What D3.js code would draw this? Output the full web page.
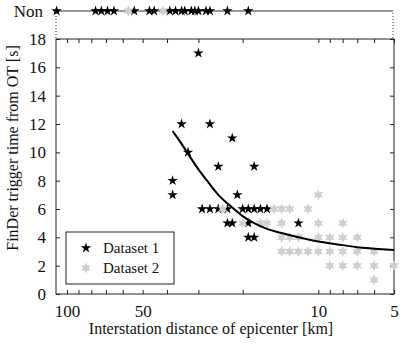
<!DOCTYPE html>
<html lang="en">
<head>
    <meta charset="UTF-8">
    <title>FinDer trigger time</title>
    <script src="https://d3js.org/d3.v7.min.js"></script>
    <style>
        body { margin: 0; background: #fff; }
        text { font-family: 'Liberation Serif', 'Times New Roman', serif; fill: #111; }
        .axis path { display: none; }
        .axis line { stroke: #222; }
    </style>
</head>
<body>
<script>
    const width  = 401;
    const height = 346;

    // Dataset 1 (black stars): distance [km], trigger time [s]
    const ds1Dist = [30, 35, 27, 22, 33, 25, 18, 38, 38, 21,
                     29, 27, 25, 23, 20, 19, 18, 17, 16,
                     23, 22, 19, 12, 19, 18];
    const ds1Time = [17, 12, 12, 11, 10, 9, 9, 8, 7, 7,
                     6, 6, 6, 6, 6, 6, 6, 6, 6,
                     5, 5, 5, 5, 4, 4];

    // Dataset 2 (grey stars)
    const ds2Dist = [10,
                     24, 15, 14, 13, 11,
                     20, 17, 16, 14, 10, 8,
                     14, 13, 12, 10, 9, 8, 7,
                     14, 13, 12, 11, 10, 9, 8, 7, 6,
                     9, 8, 7, 6, 5,
                     6];
    const ds2Time = [7,
                     6, 6, 6, 6, 6,
                     5, 5, 5, 5, 5, 5,
                     4, 4, 4, 4, 4, 4, 4,
                     3, 3, 3, 3, 3, 3, 3, 3, 3,
                     2, 2, 2, 2, 2,
                     1];

    // non-triggered events (top strip)
    const nonDs1 = [110, 77, 73, 69, 65, 54, 47, 45, 39, 37, 35, 34, 32, 31, 30, 28, 27, 23, 19];
    const nonDs2 = [57, 41.5];

    // fitted curve
    const fitDist = [38, 35, 33, 30, 28, 25, 22, 20, 18, 16, 14, 12, 10, 8, 7, 6, 5];
    const fitTime = [11.5, 10.6, 9.9, 8.8, 8.1, 7.0, 6.1, 5.5, 5.0, 4.6, 4.3, 4.0, 3.7, 3.45, 3.3, 3.2, 3.1];

    const xTickLabels = [100, 50, 10, 5];
    const xMinorTicks = [100, 90, 80, 70, 60, 50, 40, 30, 20, 10, 9, 8, 7, 6, 5];
    const yTicks = [0, 2, 4, 6, 8, 10, 12, 14, 16, 18];

    const plot = {left: 56, right: 394, top: 39, bottom: 294};
    const stripY = 11;

    const x = d3.scaleLog().domain([110.6, 5]).range([plot.left, plot.right]);
    const y = d3.scaleLinear().domain([0, 18]).range([plot.bottom, plot.top]);

    const svg = d3.select("body").append("svg").attr("width", width).attr("height", height);

    // six-pointed star for dataset 2
    const hexagram = {
        draw(ctx, size) {
            const R = Math.sqrt(size) * 0.62, r = R * 0.5;
            for (let i = 0; i < 12; i++) {
                const a = -Math.PI / 2 + i * Math.PI / 6;
                const rr = i % 2 ? r : R;
                if (i === 0) ctx.moveTo(rr * Math.cos(a), rr * Math.sin(a));
                else ctx.lineTo(rr * Math.cos(a), rr * Math.sin(a));
            }
            ctx.closePath();
        }
    };
    const star1 = d3.symbol().type(d3.symbolStar).size(34);
    const star2 = d3.symbol().type(hexagram).size(80);
    const grey = "#cfcfcf";

    // top strip
    svg.append("line").attr("x1", plot.left).attr("x2", plot.right - 1)
        .attr("y1", stripY).attr("y2", stripY).attr("stroke", "#333");
    [plot.left, plot.right - 1].forEach(px => {
        svg.append("line").attr("x1", px).attr("x2", px)
            .attr("y1", stripY + 2).attr("y2", plot.top - 1)
            .attr("stroke", "#333").attr("stroke-dasharray", "1,2");
    });
    svg.append("text").attr("x", 43).attr("y", stripY + 6)
        .attr("text-anchor", "end").style("font-size", "17px").text("Non");
    svg.selectAll(".non1").data(nonDs1).join("path")
        .attr("transform", d => `translate(${x(d)},${stripY})`)
        .attr("d", star1).attr("fill", "#000");
    svg.selectAll(".non2").data(nonDs2).join("path")
        .attr("transform", d => `translate(${x(d)},${stripY})`)
        .attr("d", star2).attr("fill", grey);

    // axes with inward ticks
    const xAxis = svg.append("g").attr("class", "axis")
        .attr("transform", `translate(0,${plot.bottom})`)
        .call(d3.axisBottom(x).tickValues(xMinorTicks).tickSize(-4).tickPadding(11)
            .tickFormat(d => xTickLabels.includes(d) ? d : ""));
    xAxis.selectAll("text").style("font-size", "17px");
    svg.append("g").attr("class", "axis")
        .attr("transform", `translate(0,${plot.top})`)
        .call(d3.axisTop(x).tickValues(xMinorTicks).tickSize(-4).tickFormat(""));

    const yAxis = svg.append("g").attr("class", "axis")
        .attr("transform", `translate(${plot.left},0)`)
        .call(d3.axisLeft(y).tickValues(yTicks).tickSize(-4).tickPadding(10));
    yAxis.selectAll("text").style("font-size", "17px");
    svg.append("g").attr("class", "axis")
        .attr("transform", `translate(${plot.right},0)`)
        .call(d3.axisRight(y).tickValues(yTicks).tickSize(-4).tickFormat(""));

    svg.append("rect").attr("x", plot.left).attr("y", plot.top)
        .attr("width", plot.right - plot.left).attr("height", plot.bottom - plot.top)
        .attr("fill", "none").attr("stroke", "#222");

    // data
    svg.append("g").selectAll("path").data(d3.range(ds1Dist.length)).join("path")
        .attr("transform", i => `translate(${x(ds1Dist[i])},${y(ds1Time[i])})`)
        .attr("d", star1).attr("fill", "#000");
    svg.append("g").selectAll("path").data(d3.range(ds2Dist.length)).join("path")
        .attr("transform", i => `translate(${x(ds2Dist[i])},${y(ds2Time[i])})`)
        .attr("d", star2).attr("fill", grey);

    const fitLine = d3.line()
        .x(i => x(fitDist[i])).y(i => y(fitTime[i]))
        .curve(d3.curveMonotoneX);
    svg.append("path").attr("d", fitLine(d3.range(fitDist.length)))
        .attr("fill", "none").attr("stroke", "#000").attr("stroke-width", 2);

    // titles
    svg.append("text").attr("x", 211).attr("y", 334).attr("text-anchor", "middle")
        .style("font-size", "16px").text("Interstation distance of epicenter [km]");
    svg.append("text").attr("transform", "translate(18,148) rotate(-90)")
        .attr("text-anchor", "middle")
        .style("font-size", "16px").text("FinDer trigger time from OT [s]");

    // legend
    const lg = svg.append("g");
    lg.append("rect").attr("x", 66).attr("y", 232).attr("width", 108).attr("height", 52)
        .attr("fill", "#fff").attr("stroke", "#222");
    lg.append("path").attr("transform", "translate(86,248)").attr("d", star1).attr("fill", "#000");
    lg.append("path").attr("transform", "translate(86,268)").attr("d", star2).attr("fill", grey);
    lg.append("text").attr("x", 103).attr("y", 253).style("font-size", "15px").text("Dataset 1");
    lg.append("text").attr("x", 103).attr("y", 273).style("font-size", "15px").text("Dataset 2");
</script>
</body>
</html>
